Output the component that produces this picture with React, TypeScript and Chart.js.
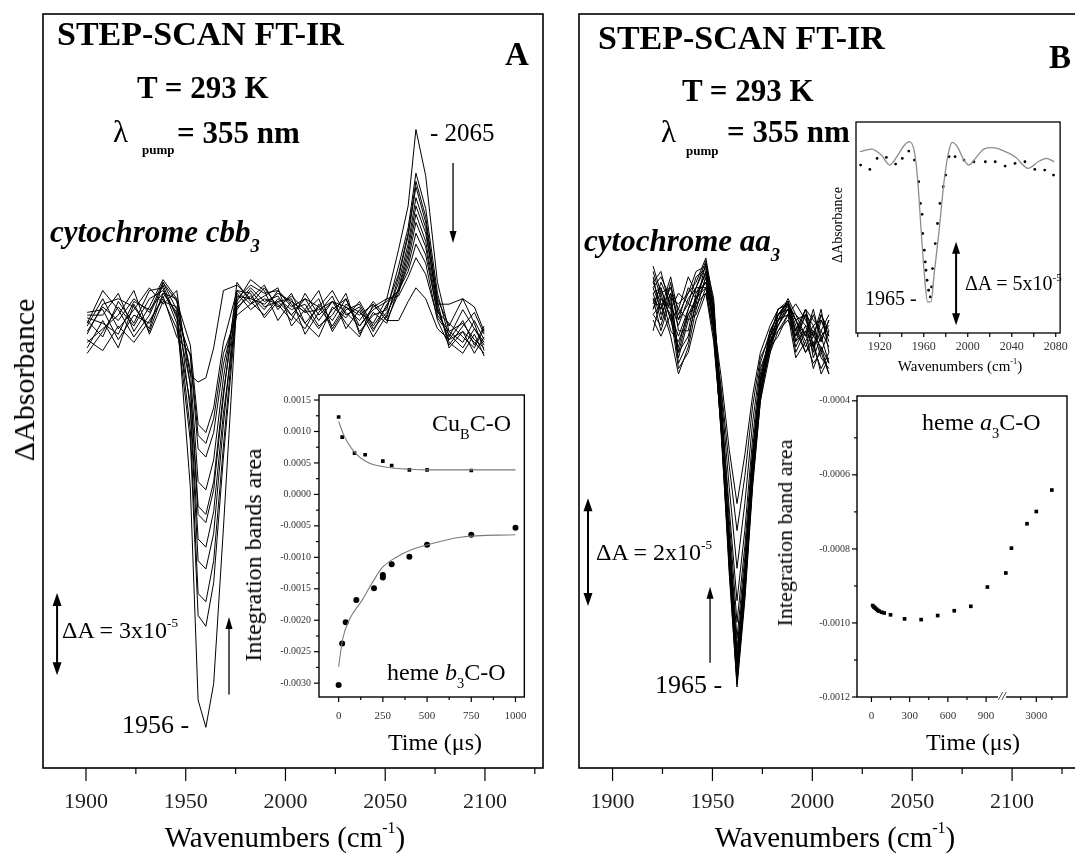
import React, { useEffect, useRef } from "react";
import { Chart, registerables, LinearScale } from "chart.js";

Chart.register(...registerables);

const SERIF = '"Liberation Serif", "Times New Roman", Times, serif';
Chart.defaults.font.family = SERIF;
Chart.defaults.color = "#222";

// ---------------- Panel A : cytochrome cbb3 spectra (units of 1e-5 absorbance) ----------------
const WN_A = [1900.6, 1908.4, 1916.2, 1924.0, 1931.8, 1938.6, 1945.5, 1952.3, 1956.2, 1960.1, 1964.0, 1968.9, 1975.7,
  1982.5, 1989.4, 1996.2, 2003.0, 2009.8, 2016.7, 2023.5, 2030.3, 2037.1, 2044.0, 2050.8, 2056.7, 2061.5, 2065.4,
  2070.3, 2076.2, 2082.0, 2088.9, 2094.7, 2099.6];
const SPEC_A_1 = [-0.6, 0.3, -0.2, 0.6, 0.1, 1.2, 0.2, -6.3, -14.1, -15.1, -13.5, -7.8, 0.6, 1.1, 0.8, 0.9, 0.3, 0.6, -0.2, 0.5, 0.1, -0.4, 0.3, 0.6, 2.4, 4.0, 6.8, 5.1, 1.2, -0.6, -0.3, -0.9, -1.2];
const SPEC_A_2 = [-0.2, -0.8, 0.5, -0.3, 0.9, 1.0, -0.3, -4.6, -11.0, -11.4, -9.8, -5.2, 0.4, 1.0, 0.5, 0.7, 0.0, -0.5, 0.4, -0.2, 0.6, -0.6, 0.0, 0.2, 1.8, 3.2, 5.2, 3.9, 0.8, -0.8, 0.2, -0.5, -1.0];
const SPEC_A_3 = [-1.2, -0.2, -1.2, 0.4, -0.6, 0.8, 0.1, -4.2, -10.2, -10.5, -9.0, -4.8, 0.7, 0.6, 1.1, 0.2, 0.8, -0.3, -0.8, 0.3, -0.1, 0.5, -0.4, 0.3, 1.5, 3.0, 4.9, 3.6, 0.5, -1.2, -0.6, -1.4, -0.8];
const SPEC_A_4 = [0.0, 0.0, 0.8, -0.6, 0.3, 1.3, 0.6, -3.5, -9.0, -9.3, -8.0, -4.0, 0.9, 0.4, 0.7, 1.0, -0.4, 0.2, 0.9, -0.5, 0.3, -0.2, 0.5, -0.1, 1.4, 2.9, 4.7, 3.4, 0.6, -0.4, 0.6, -0.3, -1.3];
const SPEC_A_5 = [-0.9, -1.3, -0.4, -1.0, -0.2, 0.6, -0.5, -3.2, -8.2, -8.5, -7.2, -3.6, 0.2, 0.9, 0.3, 0.5, 0.6, -0.7, 0.1, 0.7, -0.5, 0.2, -0.8, 0.0, 1.2, 2.6, 4.3, 3.2, 0.3, -1.0, -1.4, -0.7, -1.5];
const SPEC_A_6 = [-0.4, 0.6, -0.5, 0.2, 1.0, 0.4, 0.9, -2.6, -7.3, -7.6, -6.4, -3.0, 1.2, 0.5, 0.0, 0.6, 0.2, 0.4, -0.4, 0.0, 0.8, -0.7, 0.1, -0.3, 1.0, 2.4, 4.0, 3.0, 0.4, 0.4, 0.6, 0.3, -0.6];
const SPEC_A_7 = [-0.3, 0.9, 0.2, -0.8, 0.0, 1.1, -0.1, -2.5, -7.0, -7.3, -6.1, -2.8, 0.5, 1.3, 0.9, -0.2, 0.5, 0.1, 0.6, -0.6, 0.2, 0.4, -0.5, 0.1, 0.9, 2.2, 3.7, 2.7, 0.2, -0.9, -0.2, -1.1, -0.4];
const SPEC_A_8 = [-1.0, -0.5, 0.0, 0.9, -0.7, 0.5, 0.3, -2.0, -6.1, -6.4, -5.3, -2.3, 0.8, 0.2, 0.6, 0.4, -0.2, 0.8, 0.0, 0.5, -0.3, -0.8, 0.4, -0.2, 0.8, 2.0, 3.4, 2.5, 0.0, -0.6, -1.0, -0.2, -0.9];
const SPEC_A_9 = [-1.4, -0.6, 0.3, -0.4, 0.6, 0.9, 0.0, -1.5, -4.9, -5.2, -4.3, -1.8, 0.3, 0.7, 0.2, 0.9, 0.4, -0.3, 0.3, 0.9, 0.0, 0.3, -0.6, 0.4, 0.9, 1.8, 3.0, 2.2, 0.1, -0.3, -0.8, -1.2, -0.5];
const SPEC_A_10 = [0.1, 0.2, -0.9, 0.0, -0.3, 0.7, -0.8, -1.4, -4.4, -4.7, -3.8, -1.4, 0.0, 0.4, 1.0, 0.3, 0.7, 0.2, -0.5, 0.2, 0.6, -0.4, 0.2, 0.5, 0.9, 1.6, 2.6, 1.9, -0.2, -1.1, -0.4, 0.1, -0.7];
const SPEC_A_11 = [-0.7, 0.4, 0.6, 0.3, -0.5, 1.2, 0.5, -1.1, -4.0, -4.3, -3.4, -1.0, 0.9, 0.8, -0.1, 0.5, 0.0, 0.6, 0.3, -0.4, 0.4, 0.1, -0.3, 0.6, 0.7, 1.4, 2.1, 1.5, -0.1, -0.7, -1.2, -0.5, -1.1];
const SPEC_A_12 = [-0.1, -0.3, -0.7, 0.5, 0.2, 0.8, 0.6, -2.2, -2.45, -2.3, -1.2, 0.9, 1.1, 0.6, 0.4, 0.8, 0.5, 0.1, 0.2, 0.5, 0.3, 0.0, 0.4, -0.2, -0.2, 0.5, 1.0, 0.6, -0.5, -0.9, -0.6, -1.0, -1.4];
const SPEC_A = [SPEC_A_1, SPEC_A_2, SPEC_A_3, SPEC_A_4, SPEC_A_5, SPEC_A_6, SPEC_A_7, SPEC_A_8, SPEC_A_9, SPEC_A_10, SPEC_A_11, SPEC_A_12];

// ---------------- Panel B : cytochrome aa3 spectra ----------------
const WN_B = [1920.3, 1924.2, 1929.1, 1933.0, 1937.9, 1941.8, 1946.7, 1950.6, 1954.5, 1958.4, 1962.3, 1966.2, 1970.1,
  1974.0, 1978.9, 1982.9, 1987.8, 1991.7, 1996.6, 2000.5, 2004.4, 2008.3];
const SPEC_B = [
  [0.6, 0.2, 0.8, 0.1, 0.5, 0.7, 1.15, 0.3, -2.0, -4.6, -6.8, -5.2, -3.1, -1.5, -0.4, 0.1, 0.35, -0.2, 0.2, -0.5, 0.1, -0.3],
  [0.9, 0.4, 0.1, -0.3, 0.2, 0.6, 1.0, 0.1, -2.1, -4.7, -6.75, -5.1, -3.0, -1.4, -0.3, 0.2, 0.3, 0.0, -0.4, -0.1, -0.6, -0.2],
  [0.2, 0.7, 0.3, -0.8, -0.4, 0.4, 0.9, -0.1, -2.2, -4.5, -6.7, -5.0, -2.9, -1.3, -0.5, -0.1, 0.2, -0.4, 0.1, -0.7, -0.3, -0.8],
  [1.0, 0.5, 0.6, 0.2, 0.8, 0.5, 0.85, 0.2, -1.9, -4.4, -6.65, -5.1, -3.0, -1.5, -0.6, 0.0, 0.4, 0.1, -0.3, 0.2, -0.4, 0.0],
  [0.4, -0.2, 0.4, -0.6, 0.1, 0.3, 1.05, 0.4, -1.8, -4.5, -6.6, -4.9, -2.8, -1.2, -0.2, 0.1, 0.25, -0.6, -0.2, -0.9, -0.5, -1.0],
  [0.7, 0.9, 0.2, 0.5, 0.3, 0.8, 0.95, 0.0, -2.0, -4.4, -6.55, -5.0, -2.9, -1.4, -0.4, -0.2, 0.1, 0.3, 0.0, -0.3, 0.2, -0.6],
  [0.1, 0.3, -0.3, -1.0, -0.5, 0.2, 0.8, -0.2, -2.1, -4.3, -6.5, -4.8, -2.8, -1.3, -0.5, 0.0, 0.3, -0.1, -0.6, -0.4, -1.0, -0.7],
  [0.8, 0.1, 0.5, 0.0, 0.6, 0.4, 0.9, 0.3, -1.9, -4.2, -6.45, -4.9, -2.9, -1.2, -0.3, 0.2, 0.35, -0.3, 0.2, 0.0, -0.2, 0.1],
  [0.3, 0.6, 0.0, -0.5, 0.2, 0.6, 1.1, 0.1, -2.0, -4.3, -6.4, -4.8, -2.7, -1.1, -0.4, -0.1, 0.2, -0.5, -0.1, -0.6, 0.0, -0.4],
  [0.5, 0.0, 0.7, -0.2, -0.2, 0.5, 0.7, 0.0, -1.8, -4.2, -6.3, -4.7, -2.6, -1.2, -0.5, 0.1, 0.3, 0.0, -0.5, -0.2, -0.7, -0.9],
  [-0.2, 0.4, 0.2, -0.7, 0.0, 0.1, 0.6, -0.3, -2.1, -4.1, -6.25, -4.6, -2.7, -1.3, -0.6, -0.2, 0.0, -0.3, 0.1, -0.5, -0.2, -0.5],
  [0.6, 0.8, 0.4, 0.3, 0.5, 0.9, 1.0, 0.2, -1.7, -4.0, -6.1, -4.6, -2.6, -1.1, -0.2, 0.1, 0.35, 0.0, -0.3, 0.1, -0.3, -0.1],
  [0.0, -0.3, 0.1, -0.9, -0.6, 0.0, 0.5, -0.4, -2.0, -3.9, -5.9, -4.4, -2.5, -1.1, -0.5, -0.3, 0.1, -0.7, -0.4, -0.8, -0.6, -1.0],
  [0.4, 0.2, 0.6, 0.0, 0.3, 0.2, 0.8, 0.0, -1.6, -3.7, -5.6, -4.2, -2.4, -1.0, -0.3, 0.0, 0.2, -0.2, 0.2, -0.3, 0.1, -0.2],
  [0.2, 0.5, -0.2, -0.4, 0.1, 0.4, 0.7, -0.1, -1.6, -3.5, -5.2, -3.9, -2.2, -0.9, -0.4, -0.1, 0.3, -0.4, -0.2, -0.5, -0.9, -0.6],
  [0.7, 0.3, 0.3, -0.1, 0.4, 0.6, 0.6, 0.1, -1.4, -3.1, -4.6, -3.4, -1.9, -0.8, -0.2, 0.1, 0.2, 0.1, -0.1, -0.2, -0.4, 0.0],
  [0.1, -0.1, 0.5, -0.6, -0.3, 0.3, 0.5, -0.2, -1.3, -2.7, -3.9, -2.9, -1.6, -0.7, -0.3, 0.0, 0.1, -0.2, -0.6, -0.3, -0.5, -0.8],
  [0.5, 0.6, 0.0, 0.2, 0.0, 0.4, 0.6, 0.0, -1.1, -2.4, -3.4, -2.5, -1.4, -0.6, -0.1, 0.2, 0.3, 0.0, 0.1, -0.1, 0.0, -0.3],
];

const XTICK_MAIN = [1900, 1950, 2000, 2050, 2100];
const XMINOR_MAIN = [1925, 1975, 2025, 2075, 2125];

// ---------------- Inset A : integrated band areas vs time ----------------
const CUB_T = [0, 20, 90, 150, 250, 300, 400, 500, 750];
const CUB_V = [0.00123, 0.00091, 0.000655, 0.00063, 0.00053, 0.00046, 0.00039, 0.00039, 0.00038];
const CUB_FIT_T = [0, 25, 50, 100, 150, 200, 300, 400, 500, 750, 1000];
const CUB_FIT_V = [0.00116, 0.00097, 0.00083, 0.00064, 0.00053, 0.00047, 0.00042, 0.0004, 0.00039, 0.00039, 0.00039];
const HEME_B3_T = [0, 20, 40, 100, 200, 250, 250, 300, 400, 500, 750, 1000];
const HEME_B3_V = [-0.00303, -0.00237, -0.00203, -0.00168, -0.00149, -0.00132, -0.00128, -0.00111, -0.00099, -0.0008, -0.00064, -0.00053];
const HEME_FIT_T = [0, 22, 59, 133, 189, 244, 319, 411, 504, 689, 1000];
const HEME_FIT_V = [-0.00274, -0.00231, -0.002, -0.00168, -0.00141, -0.00117, -0.00101, -0.00088, -0.0008, -0.00068, -0.00064];
const INSET_A_XT = [0, 250, 500, 750, 1000];
const INSET_A_XM = [125, 375, 625, 875];
const INSET_A_YT = [0.0015, 0.001, 0.0005, 0, -0.0005, -0.001, -0.0015, -0.002, -0.0025, -0.003];
const INSET_A_YM = [0.00125, 0.00075, 0.00025, -0.00025, -0.00075, -0.00125, -0.00175, -0.00225, -0.00275];

// ---------------- Inset B (top) : spectrum at 1965 ----------------
const SOLID_W = [1902, 1912.5, 1921.5, 1929, 1936.5, 1942.5, 1947, 1951.5, 1954.5, 1957.6, 1960.5, 1963.5, 1966.6, 1969.5, 1974, 1978.6, 1983, 1986, 1990.5, 1996.6, 2001, 2007, 2014.6, 2022, 2031, 2043, 2055, 2064, 2071.6, 2078.6];
const SOLID_V = [-0.1, 0.06, -0.3, -0.9, -0.3, 0.3, 0.5, -0.1, -1.8, -4.8, -7.4, -9.1, -9.1, -7.4, -4.8, -1.8, 0.0, 0.46, 0.2, -0.6, -0.9, -0.5, 0.06, 0.14, 0.0, -0.4, -1.1, -0.7, -0.5, -0.7];
const DOT_W = [1902.6, 1911, 1917.6, 1926, 1934.4, 1940.5, 1946.4, 1951.5, 1955.4, 1957, 1958.5, 1959, 1960.5, 1961.4, 1962, 1963, 1964.4, 1966, 1967.1, 1968, 1970.5, 1972.5, 1974.7, 1977.7, 1980, 1983, 1988.5, 1996.6, 2005.6, 2016, 2025, 2034, 2043, 2052, 2061, 2070, 2078];
const DOT_V = [-0.9, -1.16, -0.5, -0.44, -0.84, -0.5, -0.06, -0.6, -1.9, -3.2, -3.85, -5.0, -6.0, -6.7, -7.2, -7.8, -8.4, -8.8, -8.2, -7.1, -5.6, -4.4, -3.2, -2.2, -1.5, -0.4, -0.4, -0.6, -0.7, -0.7, -0.7, -0.96, -0.8, -0.7, -1.16, -1.2, -1.5];
const INSET_BT_XT = [1920, 1960, 2000, 2040, 2080];
const INSET_BT_XM = [1900, 1940, 1980, 2020, 2060];

// ---------------- Inset B (bottom) : heme a3 C-O band area vs time ----------------
const A3_T = [10, 20, 30, 40, 50, 60, 80, 100, 150, 260, 390, 520, 650, 780, 910, 1040, 1400, 2400, 3000, 4000];
const A3_V = [-0.000953, -0.000957, -0.00096, -0.000963, -0.000966, -0.000968, -0.000971, -0.000973, -0.000978, -0.000989, -0.000991, -0.00098, -0.000967, -0.000955, -0.000903, -0.000865, -0.000798, -0.000732, -0.000699, -0.000641];
const INSET_BB_XT = [0, 300, 600, 900, 3000];
const INSET_BB_XM = [150, 450, 750, 2000, 4000];
const INSET_BB_YT = [-0.0004, -0.0006, -0.0008, -0.001, -0.0012];
const INSET_BB_YM = [-0.0005, -0.0007, -0.0009, -0.0011];

// broken time axis: linear up to 1000 us, then a gap and a compressed segment
const BROKEN = { breakAt: 1000, gap: 50, post: 0.122, dMin: -113.4, dMax: 1535 };

class BrokenLinearScale extends LinearScale {
  static id = "brokenLinear";
  static defaults = LinearScale.defaults;
  toDisplay(v: number) {
    return v <= BROKEN.breakAt ? v : BROKEN.breakAt + BROKEN.gap + (v - BROKEN.breakAt) * BROKEN.post;
  }
  getPixelForValue(value: number) {
    if (value === null || value === undefined || isNaN(value)) return NaN;
    return this.getPixelForDecimal((this.toDisplay(value) - BROKEN.dMin) / (BROKEN.dMax - BROKEN.dMin));
  }
  getPixelForDisplay(d: number) {
    return this.getPixelForDecimal((d - BROKEN.dMin) / (BROKEN.dMax - BROKEN.dMin));
  }
}
Chart.register(BrokenLinearScale as any);

type Arrow = { x: number; y0: number; y1: number; both?: boolean; lw?: number; hl?: number; hw?: number };
type Deco = {
  frame?: number; xMajor?: number[]; xMinor?: number[]; yMajor?: number[]; yMinor?: number[];
  xMajLen?: number; xMinLen?: number; yMajLen?: number; yMinLen?: number; arrows?: Arrow[]; breakMark?: boolean;
};

function decoPlugin(d: Deco) {
  return {
    id: "deco",
    afterDraw(chart: any) {
      const ctx = chart.ctx;
      const a = chart.chartArea;
      const xs = chart.scales.x;
      const ys = chart.scales.y;
      ctx.save();
      ctx.strokeStyle = "#000";
      ctx.fillStyle = "#000";
      ctx.lineWidth = d.frame ?? 1.5;
      ctx.strokeRect(a.left, a.top, a.right - a.left, a.bottom - a.top);
      ctx.lineWidth = 1.2;
      const seg = (x1: number, y1: number, x2: number, y2: number) => {
        ctx.beginPath(); ctx.moveTo(x1, y1); ctx.lineTo(x2, y2); ctx.stroke();
      };
      (d.xMajor || []).forEach((v) => { const p = xs.getPixelForValue(v); seg(p, a.bottom, p, a.bottom + (d.xMajLen ?? 6)); });
      (d.xMinor || []).forEach((v) => { const p = xs.getPixelForValue(v); seg(p, a.bottom, p, a.bottom + (d.xMinLen ?? 3)); });
      (d.yMajor || []).forEach((v) => { const p = ys.getPixelForValue(v); seg(a.left, p, a.left - (d.yMajLen ?? 5), p); });
      (d.yMinor || []).forEach((v) => { const p = ys.getPixelForValue(v); seg(a.left, p, a.left - (d.yMinLen ?? 3), p); });
      if (d.breakMark && xs.getPixelForDisplay) {
        const p = xs.getPixelForDisplay(BROKEN.breakAt + BROKEN.gap / 2);
        ctx.fillStyle = "#fff";
        ctx.fillRect(p - 4, a.bottom - 2, 8, 4);
        ctx.fillStyle = "#000";
        ctx.font = `italic 13px ${SERIF}`;
        ctx.textAlign = "center";
        ctx.textBaseline = "middle";
        ctx.fillText("//", p, a.bottom);
      }
      (d.arrows || []).forEach((ar) => {
        const px = xs.getPixelForValue(ar.x);
        const p0 = ys.getPixelForValue(ar.y0);
        const p1 = ys.getPixelForValue(ar.y1);
        const hl = ar.hl ?? 10, hw = ar.hw ?? 7;
        const dir = p1 > p0 ? 1 : -1;
        ctx.lineWidth = ar.lw ?? 1.3;
        const s0 = ar.both ? p0 + dir * hl * 0.8 : p0;
        const s1 = p1 - dir * hl * 0.8;
        seg(px, s0, px, s1);
        const head = (tip: number, dd: number) => {
          ctx.beginPath();
          ctx.moveTo(px, tip);
          ctx.lineTo(px - hw / 2, tip - dd * hl);
          ctx.lineTo(px + hw / 2, tip - dd * hl);
          ctx.closePath();
          ctx.fill();
        };
        head(p1, dir);
        if (ar.both) head(p0, -dir);
      });
      ctx.restore();
    },
  };
}

const baseOptions = {
  animation: false,
  responsive: false,
  devicePixelRatio: 1,
  events: [],
  plugins: { legend: { display: false }, tooltip: { enabled: false } },
};

const hiddenGrid = { display: false, drawTicks: false };

const pts = (xs: number[], ys: number[]) => xs.map((x, i) => ({ x, y: ys[i] }));

function mainAConfig(): any {
  return {
    type: "line",
    data: {
      datasets: SPEC_A.map((tr) => ({
        data: pts(WN_A, tr), borderColor: "#000", borderWidth: 1, pointRadius: 0, tension: 0, fill: false,
      })),
    },
    options: {
      ...baseOptions,
      layout: { padding: { left: 43, right: 17, top: 14, bottom: 0 } },
      scales: {
        x: {
          type: "linear", min: 1878.45, max: 2129.1, grid: hiddenGrid, border: { display: false },
          ticks: { font: { size: 22 }, color: "#222", padding: 21, maxRotation: 0, autoSkip: false, callback: (v: any) => String(v) },
          afterBuildTicks: (s: any) => { s.ticks = XTICK_MAIN.map((v) => ({ value: v })); },
          afterFit: (s: any) => { s.height = 87; },
        },
        y: { display: false, min: -16.59, max: 11.03 },
      },
    },
    plugins: [decoPlugin({
      frame: 1.6, xMajor: XTICK_MAIN, xMinor: XMINOR_MAIN, xMajLen: 13, xMinLen: 6,
      arrows: [
        { x: 1885.5, y0: -10.18, y1: -13.19, both: true, lw: 2, hl: 13, hw: 9 },
        { x: 1971.7, y0: -13.9, y1: -11.06, lw: 1.3, hl: 12, hw: 7 },
        { x: 2084.0, y0: 5.57, y1: 2.64, lw: 1.3, hl: 12, hw: 7 },
      ],
    })],
  };
}

function mainBConfig(): any {
  return {
    type: "line",
    data: {
      datasets: SPEC_B.map((tr) => ({
        data: pts(WN_B, tr), borderColor: "#000", borderWidth: 1, pointRadius: 0, tension: 0, fill: false,
      })),
    },
    options: {
      ...baseOptions,
      layout: { padding: { left: 39, right: 10, top: 14, bottom: 0 } },
      scales: {
        x: {
          type: "linear", min: 1883.2, max: 2139.0, grid: hiddenGrid, border: { display: false },
          ticks: { font: { size: 22 }, color: "#222", padding: 21, maxRotation: 0, autoSkip: false, callback: (v: any) => String(v) },
          afterBuildTicks: (s: any) => { s.ticks = XTICK_MAIN.map((v) => ({ value: v })); },
          afterFit: (s: any) => { s.height = 87; },
        },
        y: { display: false, min: -8.3, max: 5.67 },
      },
    },
    plugins: [decoPlugin({
      frame: 1.6, xMajor: XTICK_MAIN, xMinor: XMINOR_MAIN, xMajLen: 13, xMinLen: 6,
      arrows: [
        { x: 1887.7, y0: -3.3, y1: -5.3, both: true, lw: 2, hl: 13, hw: 9 },
        { x: 1948.8, y0: -6.35, y1: -4.94, lw: 1.3, hl: 12, hw: 7 },
      ],
    })],
  };
}

const fmt4 = (v: any) => (Math.abs(Number(v)) < 1e-12 ? 0 : Number(v)).toFixed(4);

function insetAConfig(): any {
  return {
    type: "line",
    data: {
      datasets: [
        { data: pts(CUB_FIT_T, CUB_FIT_V), borderColor: "#7a7a7a", borderWidth: 1.1, pointRadius: 0, cubicInterpolationMode: "monotone" },
        { data: pts(HEME_FIT_T, HEME_FIT_V), borderColor: "#7a7a7a", borderWidth: 1.1, pointRadius: 0, cubicInterpolationMode: "monotone" },
        { data: pts(CUB_T, CUB_V), showLine: false, pointStyle: "rect", pointRadius: 2.6, pointBackgroundColor: "#000", pointBorderWidth: 0 },
        { data: pts(HEME_B3_T, HEME_B3_V), showLine: false, pointStyle: "circle", pointRadius: 3, pointBackgroundColor: "#000", pointBorderWidth: 0 },
      ],
    },
    options: {
      ...baseOptions,
      layout: { padding: { left: 0, right: 12, top: 15, bottom: 0 } },
      scales: {
        x: {
          type: "linear", min: -111, max: 1050, grid: hiddenGrid, border: { display: false },
          ticks: { font: { size: 11 }, color: "#333", padding: 13, maxRotation: 0, autoSkip: false, callback: (v: any) => String(v) },
          afterBuildTicks: (s: any) => { s.ticks = INSET_A_XT.map((v) => ({ value: v })); },
          afterFit: (s: any) => { s.height = 63; },
        },
        y: {
          type: "linear", min: -0.00322, max: 0.00158, grid: hiddenGrid, border: { display: false },
          ticks: { font: { size: 10 }, color: "#333", padding: 8, autoSkip: false, callback: fmt4 },
          afterBuildTicks: (s: any) => { s.ticks = INSET_A_YT.map((v) => ({ value: v })); },
          afterFit: (s: any) => { s.width = 79; },
        },
      },
    },
    plugins: [decoPlugin({
      frame: 1.4, xMajor: INSET_A_XT, xMinor: INSET_A_XM, xMajLen: 5, xMinLen: 3,
      yMajor: INSET_A_YT, yMinor: INSET_A_YM, yMajLen: 5, yMinLen: 3,
    })],
  };
}

function insetBTopConfig(): any {
  return {
    type: "line",
    data: {
      datasets: [
        { data: pts(SOLID_W, SOLID_V), borderColor: "#8c8c8c", borderWidth: 1.3, pointRadius: 0, cubicInterpolationMode: "monotone" },
        { data: pts(DOT_W, DOT_V), showLine: false, pointRadius: 1.4, pointBackgroundColor: "#000", pointBorderWidth: 0 },
      ],
    },
    options: {
      ...baseOptions,
      layout: { padding: { left: 56, right: 13, top: 22, bottom: 0 } },
      scales: {
        x: {
          type: "linear", min: 1898.4, max: 2084, grid: hiddenGrid, border: { display: false },
          ticks: { font: { size: 12 }, color: "#333", padding: 7, maxRotation: 0, autoSkip: false, callback: (v: any) => String(v) },
          afterBuildTicks: (s: any) => { s.ticks = INSET_BT_XT.map((v) => ({ value: v })); },
          afterFit: (s: any) => { s.height = 57; },
        },
        y: { display: false, min: -10.96, max: 1.68 },
      },
    },
    plugins: [decoPlugin({
      frame: 1.3, xMajor: INSET_BT_XT, xMinor: INSET_BT_XM, xMajLen: 4, xMinLen: 4,
      arrows: [{ x: 1989.4, y0: -5.5, y1: -10.5, both: true, lw: 2, hl: 12, hw: 8 }],
    })],
  };
}

function insetBBottomConfig(): any {
  return {
    type: "line",
    data: {
      datasets: [
        { data: pts(A3_T, A3_V), showLine: false, pointStyle: "rect", pointRadius: 2.6, pointBackgroundColor: "#000", pointBorderWidth: 0 },
      ],
    },
    options: {
      ...baseOptions,
      layout: { padding: { left: 0, right: 8, top: 16, bottom: 0 } },
      scales: {
        x: {
          type: "brokenLinear", min: -113, max: 5000, grid: hiddenGrid, border: { display: false },
          ticks: { font: { size: 11 }, color: "#333", padding: 13, maxRotation: 0, autoSkip: false, callback: (v: any) => String(v) },
          afterBuildTicks: (s: any) => { s.ticks = INSET_BB_XT.map((v) => ({ value: v })); },
          afterFit: (s: any) => { s.height = 63; },
        },
        y: {
          type: "linear", min: -0.0012, max: -0.000387, grid: hiddenGrid, border: { display: false },
          ticks: { font: { size: 10 }, color: "#333", padding: 7, autoSkip: false, callback: fmt4 },
          afterBuildTicks: (s: any) => { s.ticks = INSET_BB_YT.map((v) => ({ value: v })); },
          afterFit: (s: any) => { s.width = 67; },
        },
      },
    },
    plugins: [decoPlugin({
      frame: 1.4, xMajor: INSET_BB_XT, xMinor: INSET_BB_XM, xMajLen: 5, xMinLen: 3,
      yMajor: INSET_BB_YT, yMinor: INSET_BB_YM, yMajLen: 5, yMinLen: 3, breakMark: true,
    })],
  };
}

function ChartBox({ left, top, width, height, make }: { left: number; top: number; width: number; height: number; make: () => any }) {
  const ref = useRef<HTMLCanvasElement>(null);
  useEffect(() => {
    const c = new Chart(ref.current as HTMLCanvasElement, make());
    return () => c.destroy();
  }, []);
  return <canvas ref={ref} width={width} height={height} style={{ position: "absolute", left, top, width, height }} />;
}

function Txt({ x, y, a = "l", s, b, i, r, c = "#000", children }: any) {
  const tx = a === "l" ? "0" : a === "c" ? "-50%" : "-100%";
  return (
    <div
      style={{
        position: "absolute", left: x, top: y,
        transform: `translate(${tx},-50%)${r ? ` rotate(${r}deg)` : ""}`,
        fontSize: s, fontWeight: b ? "bold" : "normal", fontStyle: i ? "italic" : "normal",
        color: c, whiteSpace: "nowrap", lineHeight: 1, fontFamily: SERIF,
      }}
    >
      {children}
    </div>
  );
}
const Sub = ({ children }: any) => <span style={{ fontSize: "0.6em", position: "relative", top: "0.55em" }}>{children}</span>;
const Sup = ({ children }: any) => <span style={{ fontSize: "0.55em", position: "relative", top: "-0.85em" }}>{children}</span>;

export default function App() {
  return (
    <div style={{ position: "fixed", left: 0, top: 0, width: 1075, height: 855, overflow: "hidden", background: "#fff" }}>
      <ChartBox left={0} top={0} width={560} height={855} make={mainAConfig} />
      <ChartBox left={540} top={0} width={560} height={855} make={mainBConfig} />
      <ChartBox left={240} top={380} width={300} height={380} make={insetAConfig} />
      <ChartBox left={800} top={100} width={275} height={290} make={insetBTopConfig} />
      <ChartBox left={790} top={380} width={285} height={380} make={insetBBottomConfig} />

      {/* Panel A texts */}
      <Txt x={57} y={34} s={34} b>STEP-SCAN FT-IR</Txt>
      <Txt x={137} y={87} s={31} b>T = 293 K</Txt>
      <Txt x={113} y={131} s={31}>λ</Txt>
      <Txt x={142} y={149} s={13} b>pump</Txt>
      <Txt x={177} y={132} s={31} b>= 355 nm</Txt>
      <Txt x={517} y={54} a="c" s={33} b>A</Txt>
      <Txt x={50} y={231} s={31} b i>cytochrome cbb<Sub>3</Sub></Txt>
      <Txt x={430} y={132} s={25}>- 2065</Txt>
      <Txt x={62} y={630} s={24}>ΔA = 3x10<Sup>-5</Sup></Txt>
      <Txt x={122} y={725} s={26}>1956 -</Txt>
      <Txt x={285} y={837} a="c" s={29}>Wavenumbers (cm<Sup>-1</Sup>)</Txt>
      <Txt x={24} y={380} a="c" r={-90} s={30}>ΔAbsorbance</Txt>
      <Txt x={253} y={555} a="c" r={-90} s={24}>Integration bands area</Txt>
      <Txt x={432} y={423} s={24}>Cu<Sub>B</Sub>C-O</Txt>
      <Txt x={387} y={672} s={24}>heme <i>b</i><Sub>3</Sub>C-O</Txt>
      <Txt x={435} y={742} a="c" s={24}>Time (μs)</Txt>

      {/* Panel B texts */}
      <Txt x={598} y={38} s={34} b>STEP-SCAN FT-IR</Txt>
      <Txt x={682} y={90} s={31} b>T = 293 K</Txt>
      <Txt x={661} y={131} s={31}>λ</Txt>
      <Txt x={686} y={150} s={13} b>pump</Txt>
      <Txt x={727} y={131} s={31} b>= 355 nm</Txt>
      <Txt x={1060} y={57} a="c" s={33} b>B</Txt>
      <Txt x={584} y={240} s={31} b i>cytochrome aa<Sub>3</Sub></Txt>
      <Txt x={596} y={552} s={24}>ΔA = 2x10<Sup>-5</Sup></Txt>
      <Txt x={655} y={685} s={26}>1965 -</Txt>
      <Txt x={835} y={837} a="c" s={29}>Wavenumbers (cm<Sup>-1</Sup>)</Txt>
      <Txt x={838} y={225} a="c" r={-90} s={14}>ΔAbsorbance</Txt>
      <Txt x={865} y={298} s={20}>1965 -</Txt>
      <Txt x={965} y={283} s={20}>ΔA = 5x10<Sup>-5</Sup></Txt>
      <Txt x={960} y={366} a="c" s={15}>Wavenumbers (cm<Sup>-1</Sup>)</Txt>
      <Txt x={785} y={533} a="c" r={-90} s={22}>Integration band area</Txt>
      <Txt x={922} y={422} s={24}>heme <i>a</i><Sub>3</Sub>C-O</Txt>
      <Txt x={973} y={742} a="c" s={24}>Time (μs)</Txt>
    </div>
  );
}
